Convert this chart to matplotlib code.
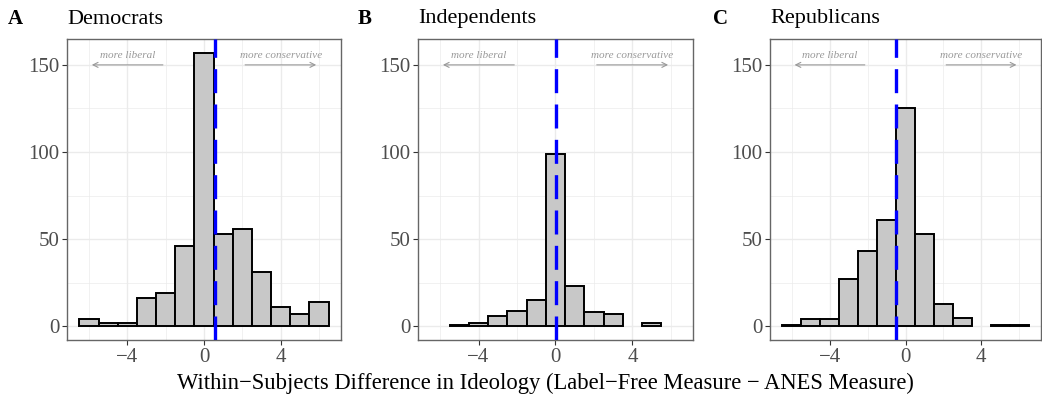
import numpy as np
import matplotlib
matplotlib.use("Agg")
import matplotlib.pyplot as plt

plt.rcParams['font.family'] = ['Liberation Serif', 'DejaVu Serif']

# bin centres (bins of width 1, from -6.5 to 6.5)
bin_centers = [-6, -5, -4, -3, -2, -1, 0, 1, 2, 3, 4, 5, 6]

dem_counts = [4, 2, 2, 16, 19, 46, 157, 53, 56, 31, 11, 7, 14]
ind_counts = [0, 1, 2, 6, 9, 15, 99, 23, 8, 7, 0, 2, 0]
rep_counts = [1, 4, 4, 27, 43, 61, 125, 53, 13, 5, 0, 1, 1]

dem_mean = 0.57
ind_mean = 0.02
rep_mean = -0.48

panel_letters = ["A", "B", "C"]
panel_titles = ["Democrats", "Independents", "Republicans"]
x_ticks = [-4, 0, 4]
y_ticks = [0, 50, 100, 150]
x_label = "Within\u2212Subjects Difference in Ideology (Label\u2212Free Measure \u2212 ANES Measure)"

W, H = 1042, 395
fig = plt.figure(figsize=(W / 100, H / 100), dpi=100)

# pixel boxes of the three panels (left, right); top/bottom shared
panel_x = [(67, 341), (418, 693), (770, 1041)]
top_px, bot_px = 39, 340

data = [
    (dem_counts, dem_mean),
    (ind_counts, ind_mean),
    (rep_counts, rep_mean),
]

for i, ((counts, mean), (x0, x1)) in enumerate(zip(data, panel_x)):
    ax = fig.add_axes([x0 / W, 1 - bot_px / H, (x1 - x0) / W, (bot_px - top_px) / H])

    # skip empty bins, they are not drawn in the original
    xs = [c for c, n in zip(bin_centers, counts) if n > 0]
    ns = [n for n in counts if n > 0]
    ax.bar(xs, ns, width=1, color="#C8C8C8", edgecolor="black", linewidth=1.4, zorder=3)

    ax.axvline(mean, color="blue", linewidth=2.4, dashes=(7.2, 3.4), zorder=4)

    # direction arrows
    arrow_kw = dict(arrowstyle="->", color="#999999", lw=0.8, mutation_scale=9)
    ax.annotate("", xy=(-6, 150), xytext=(-2, 150), arrowprops=arrow_kw, zorder=2)
    ax.annotate("", xy=(6, 150), xytext=(2, 150), arrowprops=arrow_kw, zorder=2)
    ax.text(-4, 155.5, "more liberal", ha="center", va="center", fontsize=8,
            style="italic", color="#999999", zorder=2)
    ax.text(4, 155.5, "more conservative", ha="center", va="center", fontsize=8,
            style="italic", color="#999999", zorder=2)

    ax.set_xlim(-7.15, 7.15)
    ax.set_ylim(-7.85, 164.85)
    ax.set_xticks(x_ticks)
    ax.set_xticklabels(["\u22124", "0", "4"])
    ax.set_xticks([-6, -2, 2, 6], minor=True)
    ax.set_yticks(y_ticks)
    ax.set_yticks([25, 75, 125], minor=True)

    ax.grid(True, which="major", color="#EBEBEB", linewidth=1.0, zorder=0)
    ax.grid(True, which="minor", color="#EBEBEB", linewidth=0.5, zorder=0)
    ax.set_axisbelow(True)

    ax.tick_params(which="major", length=3.5, width=0.8, color="#333333",
                   labelsize=15, labelcolor="#4D4D4D", pad=2)
    ax.tick_params(which="minor", length=0)
    for s in ax.spines.values():
        s.set_color("#666666")
        s.set_linewidth(1.0)

    lx = [8, 358, 713][i]
    fig.text(lx / W, 1 - 19 / H, panel_letters[i], fontsize=15, fontweight="bold",
             ha="left", va="center")
    fig.text(x0 / W, 1 - 19 / H, panel_titles[i], fontsize=16, ha="left", va="center")

fig.text(545 / W, 1 - 383 / H, x_label, fontsize=16.3, ha="center", va="center")

fig.savefig("out.png", dpi=100)
